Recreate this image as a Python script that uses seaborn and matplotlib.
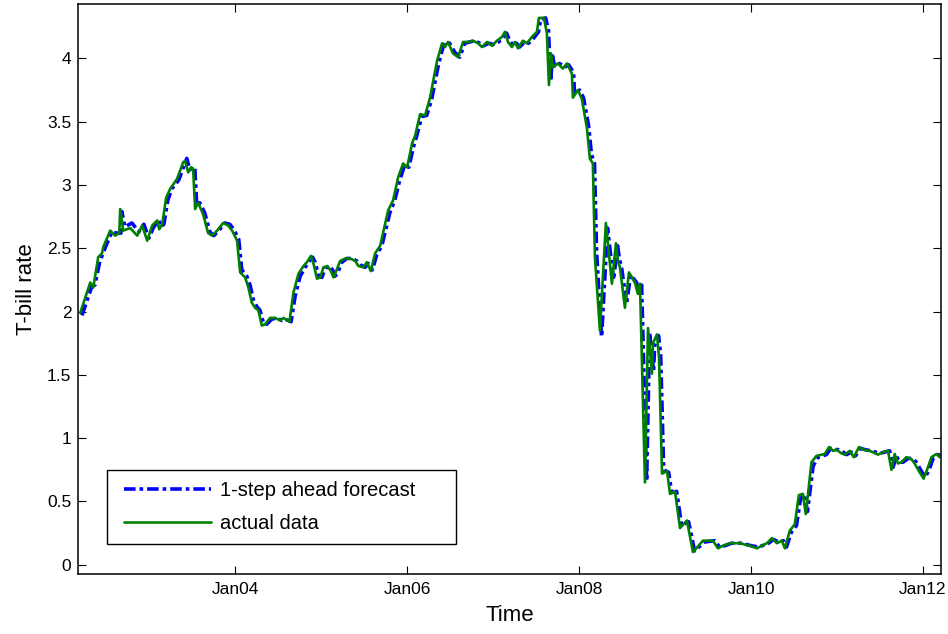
import numpy as np
import pandas as pd
import matplotlib
matplotlib.use("Agg")
import matplotlib.pyplot as plt
import matplotlib.dates as mdates
from matplotlib.ticker import MultipleLocator, FuncFormatter
from matplotlib.legend_handler import HandlerLine2D
from matplotlib.lines import Line2D
import seaborn as sns

# Observation times (decimal years) and weekly T-bill rates
obs_years = [
    # 2002 - start of 2004
    2002.194, 2002.310, 2002.345, 2002.403, 2002.447, 2002.462, 2002.543, 2002.601, 2002.648, 2002.659,
    2002.694, 2002.776, 2002.857, 2002.915, 2002.973, 2003.031, 2003.090, 2003.113, 2003.148, 2003.194,
    2003.241, 2003.322, 2003.392, 2003.415, 2003.450, 2003.485, 2003.508, 2003.531, 2003.566, 2003.624,
    2003.683, 2003.729, 2003.787, 2003.857, 2003.915, 2003.962, 2004.020,
    # 2004 - late 2005
    2004.055, 2004.113, 2004.151, 2004.191, 2004.229, 2004.267, 2004.307, 2004.345, 2004.403, 2004.462,
    2004.520, 2004.558, 2004.628, 2004.674, 2004.733, 2004.791, 2004.830, 2004.877, 2004.907, 2004.947,
    2004.985, 2005.023, 2005.070, 2005.109, 2005.140, 2005.171, 2005.217, 2005.276, 2005.334, 2005.392,
    2005.430, 2005.488, 2005.528, 2005.574, 2005.624, 2005.683,
    # late 2005 - late 2010
    2005.776, 2005.834, 2005.892, 2005.950, 2005.997,
    2006.055, 2006.090, 2006.148, 2006.206, 2006.264, 2006.345, 2006.404, 2006.438, 2006.473, 2006.531,
    2006.590, 2006.648, 2006.706, 2006.764, 2006.822, 2006.869, 2006.927, 2006.985, 2007.043, 2007.101,
    2007.136, 2007.171, 2007.217, 2007.252, 2007.287, 2007.345, 2007.392, 2007.450, 2007.508, 2007.531,
    2007.590, 2007.624, 2007.648, 2007.671, 2007.694, 2007.752, 2007.810, 2007.857, 2007.915, 2007.927,
    2007.985, 2008.031, 2008.090, 2008.124, 2008.159, 2008.183, 2008.241, 2008.310, 2008.380, 2008.427,
    2008.450, 2008.473, 2008.531, 2008.578, 2008.647, 2008.682, 2008.706, 2008.764, 2008.799, 2008.845,
    2008.857, 2008.903, 2008.927, 2008.962, 2009.020, 2009.055, 2009.113, 2009.171, 2009.252, 2009.322,
    2009.438, 2009.555, 2009.613, 2009.671, 2009.752, 2009.869, 2009.985, 2010.066, 2010.183, 2010.241,
    2010.299, 2010.357, 2010.392, 2010.450, 2010.508, 2010.555, 2010.601, 2010.636,
    # late 2010 - 2012
    2010.702, 2010.760, 2010.857, 2010.907, 2010.953, 2010.993, 2011.051, 2011.090, 2011.148, 2011.194,
    2011.256, 2011.302, 2011.380, 2011.477, 2011.535, 2011.593, 2011.633, 2011.671, 2011.709, 2011.749,
    2011.807, 2011.865, 2011.903, 2011.953, 2012.008, 2012.058, 2012.098, 2012.156, 2012.194,
]

actual = [
    1.99, 2.23, 2.19, 2.43, 2.46, 2.51, 2.64, 2.60, 2.62, 2.81,
    2.64, 2.66, 2.60, 2.68, 2.56, 2.68, 2.72, 2.65, 2.69, 2.90,
    2.97, 3.05, 3.18, 3.19, 3.10, 3.14, 3.13, 2.81, 2.86, 2.77,
    2.62, 2.60, 2.64, 2.70, 2.68, 2.64, 2.56,
    2.31, 2.27, 2.19, 2.07, 2.03, 2.01, 1.89, 1.90, 1.95, 1.95,
    1.93, 1.95, 1.92, 2.15, 2.30, 2.36, 2.39, 2.44, 2.38, 2.26,
    2.27, 2.35, 2.36, 2.32, 2.27, 2.32, 2.40, 2.42, 2.42, 2.40,
    2.36, 2.35, 2.39, 2.32, 2.46, 2.52,
    2.80, 2.88, 3.06, 3.17, 3.14,
    3.33, 3.39, 3.56, 3.55, 3.69, 3.98, 4.12, 4.09, 4.13, 4.04,
    4.01, 4.13, 4.13, 4.14, 4.12, 4.09, 4.13, 4.10, 4.14, 4.17,
    4.21, 4.13, 4.09, 4.13, 4.08, 4.14, 4.12, 4.17, 4.21, 4.32,
    4.32, 4.20, 3.79, 4.04, 3.93, 3.96, 3.92, 3.96, 3.88, 3.69,
    3.75, 3.68, 3.45, 3.21, 3.17, 2.43, 1.85, 2.70, 2.22, 2.54,
    2.40, 2.35, 2.03, 2.31, 2.23, 2.14, 2.22, 0.65, 1.87, 1.51,
    1.75, 1.82, 1.64, 0.72, 0.74, 0.56, 0.58, 0.29, 0.35, 0.10,
    0.19, 0.19, 0.13, 0.15, 0.17, 0.17, 0.15, 0.13, 0.17, 0.21,
    0.17, 0.19, 0.13, 0.27, 0.32, 0.55, 0.56, 0.40,
    0.81, 0.86, 0.875, 0.93, 0.90, 0.91, 0.88, 0.87, 0.90, 0.85,
    0.93, 0.91, 0.90, 0.87, 0.89, 0.90, 0.75, 0.875, 0.80, 0.81,
    0.85, 0.835, 0.80, 0.74, 0.68, 0.77, 0.85, 0.875, 0.85,
]

# One-step-ahead forecasts, each issued at an observation time for the following week
forecast = [
    1.97, 2.20, 2.21, 2.40, 2.47, 2.50, 2.63, 2.62, 2.62, 2.79,
    2.67, 2.70, 2.63, 2.69, 2.58, 2.67, 2.72, 2.67, 2.69, 2.88,
    2.97, 3.04, 3.17, 3.21, 3.12, 3.14, 3.14, 2.84, 2.86, 2.78,
    2.63, 2.60, 2.64, 2.70, 2.69, 2.65, 2.57,
    2.33, 2.28, 2.21, 2.09, 2.04, 2.01, 1.91, 1.90, 1.94, 1.95,
    1.93, 1.94, 1.92, 2.12, 2.28, 2.35, 2.39, 2.43, 2.39, 2.28,
    2.27, 2.34, 2.36, 2.33, 2.28, 2.31, 2.39, 2.42, 2.42, 2.40,
    2.37, 2.35, 2.38, 2.33, 2.45, 2.52,
    2.78, 2.88, 3.04, 3.16, 3.14,
    3.31, 3.39, 3.54, 3.55, 3.68, 3.96, 4.11, 4.10, 4.12, 4.05,
    4.01, 4.12, 4.13, 4.14, 4.12, 4.10, 4.12, 4.11, 4.13, 4.17,
    4.20, 4.14, 4.10, 4.12, 4.09, 4.13, 4.12, 4.16, 4.21, 4.31,
    4.32, 4.22, 3.82, 4.02, 3.94, 3.96, 3.93, 3.95, 3.89, 3.72,
    3.75, 3.69, 3.47, 3.24, 3.17, 2.47, 1.80, 2.66, 2.25, 2.52,
    2.41, 2.35, 2.06, 2.29, 2.23, 2.15, 2.21, 0.66, 1.83, 1.53,
    1.73, 1.81, 1.66, 0.75, 0.73, 0.57, 0.58, 0.31, 0.34, 0.11,
    0.18, 0.19, 0.14, 0.15, 0.17, 0.17, 0.15, 0.14, 0.17, 0.20,
    0.18, 0.19, 0.14, 0.26, 0.31, 0.52, 0.56, 0.42,
    0.78, 0.85, 0.87, 0.92, 0.91, 0.91, 0.89, 0.87, 0.89, 0.86,
    0.92, 0.91, 0.90, 0.88, 0.89, 0.90, 0.77, 0.86, 0.81, 0.81,
    0.84, 0.84, 0.81, 0.75, 0.69, 0.76, 0.84, 0.87, 0.86,
]

assert len(obs_years) == len(actual) == len(forecast)

forecast_horizon_days = 7
x_span_years = (2002.171, 2012.206)
y_span = (-0.073, 4.43)


def year_to_timestamp(t):
    y = int(np.floor(t))
    start = pd.Timestamp(year=y, month=1, day=1)
    end = pd.Timestamp(year=y + 1, month=1, day=1)
    return start + (end - start) * (t - y)


obs_dates = pd.DatetimeIndex([year_to_timestamp(t) for t in obs_years])
fc_dates = obs_dates + pd.Timedelta(days=forecast_horizon_days)

df_actual = pd.DataFrame({"date": obs_dates, "rate": actual})
df_fc = pd.DataFrame({"date": fc_dates, "rate": forecast})

sns.set_style("ticks")
plt.rcParams["font.family"] = ["Liberation Sans", "DejaVu Sans"]
plt.rcParams["axes.linewidth"] = 1.1
plt.rcParams["text.color"] = "black"
plt.rcParams["axes.labelcolor"] = "black"
plt.rcParams["xtick.color"] = "black"
plt.rcParams["ytick.color"] = "black"

fig = plt.figure(figsize=(9.48, 6.34), dpi=100)
ax = fig.add_axes([78.3 / 948, 60 / 634, 862.4 / 948, 570 / 634])

sns.lineplot(data=df_fc, x="date", y="rate", ax=ax, color=(0, 0, 1),
             linewidth=2.6, linestyle=(0, (3.2, 1.1, 1.0, 1.1)),
             label="1-step ahead forecast", estimator=None)
sns.lineplot(data=df_actual, x="date", y="rate", ax=ax, color=(0, 0.5, 0),
             linewidth=1.9, label="actual data", estimator=None)

ax.set_xlim(year_to_timestamp(x_span_years[0]), year_to_timestamp(x_span_years[1]))
ax.set_ylim(*y_span)

ax.xaxis.set_major_locator(mdates.YearLocator(base=2, month=1, day=1))
ax.xaxis.set_major_formatter(mdates.DateFormatter("%b%y"))
ax.yaxis.set_major_locator(MultipleLocator(0.5))
ax.yaxis.set_major_formatter(FuncFormatter(lambda v, p: f"{v:g}"))

ax.tick_params(axis="both", direction="in", length=6, width=0.8, color="black",
               labelsize=12.5, top=True, right=True, labelcolor="black")
ax.tick_params(axis="y", pad=5)
ax.tick_params(axis="x", pad=6)
for s in ax.spines.values():
    s.set_visible(True)
    s.set_color("black")
    s.set_linewidth(1.1)

ax.set_xlabel("Time", fontsize=16)
ax.set_ylabel("T-bill rate", fontsize=16)
ax.xaxis.set_label_coords(0.5, -0.055)
ax.yaxis.set_label_coords(-0.048, 0.5)

handles, labels = ax.get_legend_handles_labels()
line_handler = HandlerLine2D(xpad=0.31)
leg = ax.legend(handles, labels, loc="lower left",
                bbox_to_anchor=(0.0329, 0.0526, 0.4047, 0.13),
                mode="expand", borderaxespad=0, fontsize=14.5, handlelength=4.64,
                handletextpad=0.45, labelspacing=0.7, borderpad=0.55,
                fancybox=False, framealpha=1, edgecolor="black",
                handler_map={Line2D: line_handler})
leg.get_frame().set_linewidth(1.0)

fig.savefig("out.png", dpi=100)
